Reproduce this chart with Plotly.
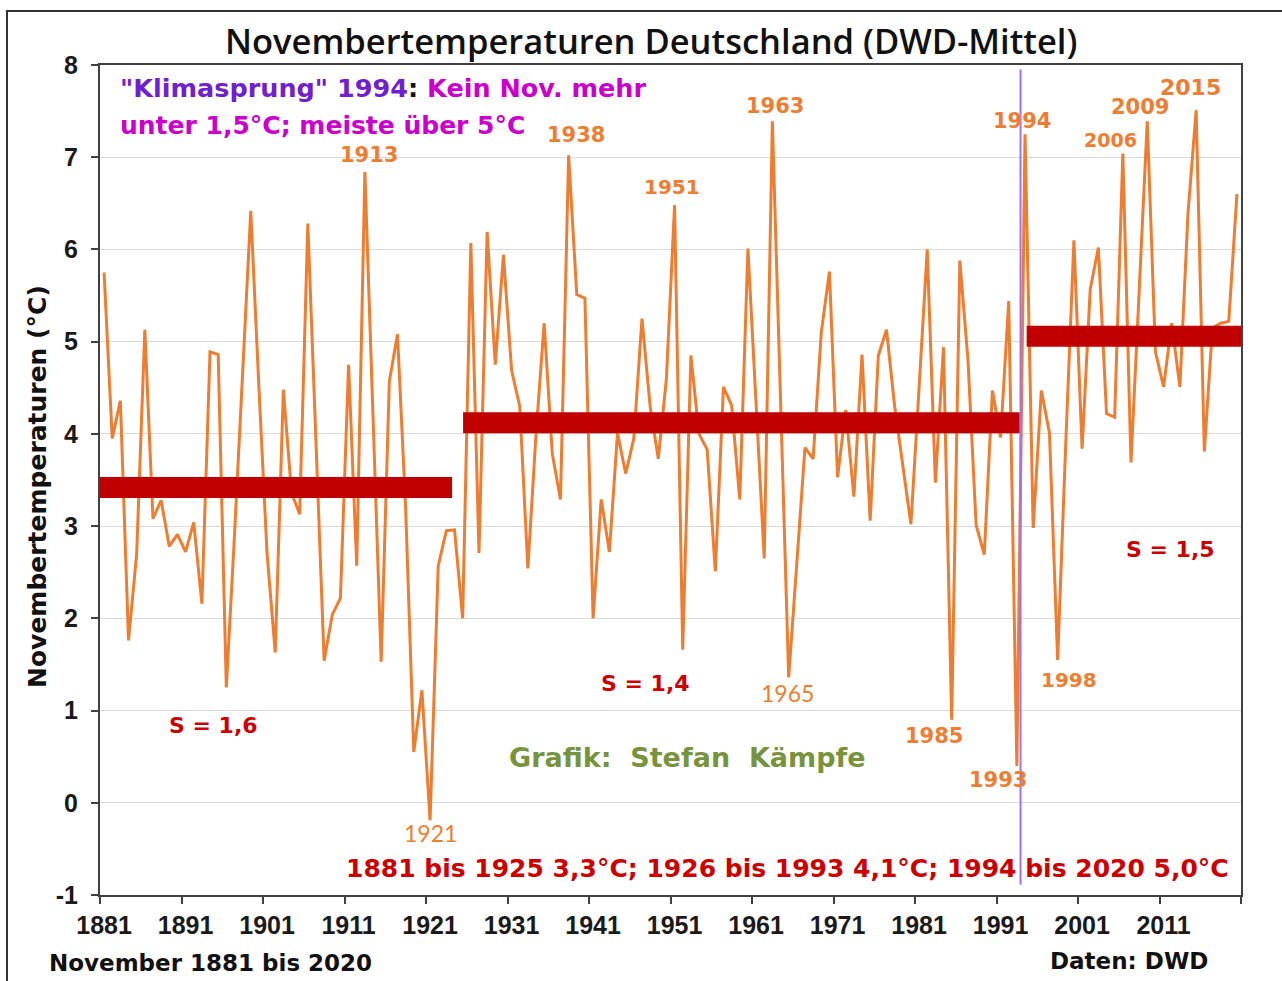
import plotly.graph_objects as go

# ---------------- data ----------------
years = list(range(1881, 2021))
temps = [
    5.75, 3.95, 4.36, 1.76, 2.70, 5.13, 3.08, 3.28, 2.78, 2.91,   # 1881-1890
    2.72, 3.04, 2.16, 4.89, 4.86, 1.25, 2.90, 4.60, 6.42, 4.50,   # 1891-1900
    2.70, 1.63, 4.48, 3.36, 3.13, 6.28, 3.90, 1.54, 2.04, 2.22,   # 1901-1910
    4.75, 2.57, 6.84, 4.20, 1.53, 4.57, 5.08, 3.20, 0.55, 1.22,   # 1911-1920
    -0.19, 2.57, 2.95, 2.96, 2.00, 6.07, 2.71, 6.19, 4.75, 5.94,  # 1921-1930
    4.69, 4.30, 2.54, 4.00, 5.20, 3.78, 3.29, 7.02, 5.51, 5.47,   # 1931-1940
    2.00, 3.29, 2.72, 4.01, 3.57, 3.95, 5.25, 4.30, 3.73, 4.60,   # 1941-1950
    6.48, 1.66, 4.85, 4.00, 3.83, 2.51, 4.51, 4.31, 3.29, 6.01,   # 1951-1960
    4.30, 2.65, 7.39, 4.30, 1.36, 2.60, 3.85, 3.73, 5.10, 5.76,   # 1961-1970
    3.53, 4.26, 3.32, 4.86, 3.06, 4.85, 5.13, 4.30, 3.65, 3.02,   # 1971-1980
    4.50, 6.00, 3.47, 4.94, 0.90, 5.88, 4.80, 3.01, 2.69, 4.47,   # 1981-1990
    3.96, 5.44, 0.40, 7.25, 2.98, 4.47, 4.01, 1.55, 3.90, 6.10,   # 1991-2000
    3.84, 5.57, 6.02, 4.22, 4.18, 7.04, 3.69, 5.50, 7.39, 4.89,   # 2001-2010
    4.51, 5.20, 4.51, 6.40, 7.51, 3.81, 5.15, 5.20, 5.22, 6.60,   # 2011-2020
]

# period means (thick red bars) as drawn in the original
period_start = [1880.5, 1925.05, 1994.2]
period_end = [1923.7, 1993.35, 2020.5]
period_mean = [3.42, 4.12, 5.06]

tick_years = [1881, 1891, 1901, 1911, 1921, 1931, 1941, 1951, 1961, 1971, 1981, 1991, 2001, 2011]
tick_bounds = [1880.5, 1890.5, 1900.5, 1910.5, 1920.5, 1930.5, 1940.5, 1950.5,
               1960.5, 1970.5, 1980.5, 1990.5, 2000.5, 2010.5, 2020.5]
y_ticks = [-1, 0, 1, 2, 3, 4, 5, 6, 7, 8]
y_ticktext = ["-1", "0", "1", "2", "3", "4", "5", "6", "7", "8"]
klimasprung_year = 1993.45

# ---------------- styling ----------------
ORANGE = "#ED7D31"
DARKRED = "#C00000"
RED = "#CC0000"
PURPLE = "#7020D0"
MAGENTA = "#CC00CC"
GREEN = "#77933C"
DV = "DejaVu Sans"
AR = "Liberation Sans, Arial"

W, H = 1282, 981
L, R, T, B = 100, 41, 65, 86
PW, PH = W - L - R, H - T - B


def px(x, y):
    return (x - L) / PW, (H - B - y) / PH


fig = go.Figure()
fig.add_trace(go.Scatter(x=years, y=temps, mode="lines",
                         line=dict(color=ORANGE, width=3), hoverinfo="skip"))
for s, e, m in zip(period_start, period_end, period_mean):
    fig.add_trace(go.Scatter(x=[s, e], y=[m, m], mode="lines",
                             line=dict(color=DARKRED, width=21), hoverinfo="skip"))

annotations = []


def ann(text, x, y, size, color, family=DV, weight="bold", xanchor="center", angle=0):
    xp, yp = px(x, y)
    annotations.append(dict(text=text, x=xp, y=yp, xref="paper", yref="paper",
                            showarrow=False, xanchor=xanchor, yanchor="middle",
                            textangle=angle,
                            font=dict(family=family, size=size, color=color, weight=weight)))


# title
ann("Novembertemperaturen Deutschland (DWD-Mittel)", 651, 40, 34.5, "#111111",
    family="Open Sans", weight=600)
# y title
ann("Novembertemperaturen (°C)", 38, 487, 25, "#111111", angle=-90)
# bottom texts
ann("November 1881 bis 2020", 47, 963, 23, "#111111", xanchor="left")
ann("Daten: DWD", 1210, 961, 23, "#111111", xanchor="right")
# Klimasprung note
ann(f'<span style="color:{PURPLE}">"Klimasprung" 1994</span>'
    f'<span style="color:#111111">:</span> '
    f'<span style="color:{MAGENTA}">Kein Nov. mehr</span>', 118, 88, 25.5, PURPLE, xanchor="left")
ann("unter 1,5°C; meiste über 5°C", 118, 125, 25, MAGENTA, xanchor="left")
# year labels
ann("1913", 369, 155, 21, ORANGE)
ann("1938", 576, 135, 21, ORANGE)
ann("1951", 672, 187, 20, ORANGE)
ann("1963", 775, 106, 21, ORANGE)
ann("1994", 1022, 121, 21, ORANGE)
ann("2006", 1110, 140, 19, ORANGE)
ann("2009", 1140, 107, 21, ORANGE)
ann("2015", 1190, 87, 22, ORANGE)
ann("1985", 934, 736, 21, ORANGE)
ann("1993", 998, 780, 21, ORANGE)
ann("1998", 1069, 680, 20, ORANGE)
ann("1921", 431, 833, 23, ORANGE, family="Lato", weight="normal")
ann("1965", 787, 693, 23, ORANGE, family="Lato", weight="normal")
# S labels
ann("S = 1,6", 213, 725, 22, RED)
ann("S = 1,4", 645, 683, 22, RED)
ann("S = 1,5", 1170, 549, 22, RED)
# credit
ann("Grafik:\u00a0\u00a0Stefan\u00a0\u00a0Kämpfe", 687, 757, 27, GREEN)
# summary
ann("1881 bis 1925 3,3°C; 1926 bis 1993 4,1°C; 1994 bis 2020 5,0°C", 788, 868, 25, RED)

shapes = [
    dict(type="line", xref="x", yref="y", x0=klimasprung_year, x1=klimasprung_year,
         y0=-0.89, y1=7.95, line=dict(color="#A070F0", width=2), layer="above"),
]
fx0, fy0 = px(7, 1010)
fx1, fy1 = px(1300, 11)
shapes.append(dict(type="rect", xref="paper", yref="paper", x0=fx0, x1=fx1, y0=fy0, y1=fy1,
                   line=dict(color="#333333", width=2), layer="above"))

tickfont = dict(family=AR, size=25, color="#1a1a1a", weight="bold")
fig.update_layout(
    width=W, height=H,
    margin=dict(l=L, r=R, t=T, b=B),
    paper_bgcolor="white", plot_bgcolor="white", showlegend=False,
    annotations=annotations, shapes=shapes,
    xaxis=dict(range=[1880.5, 2020.5], tickmode="array", tickvals=tick_years,
               ticktext=[str(v) for v in tick_years], ticks="", showgrid=False,
               zeroline=False, showline=True, mirror=True, linecolor="#404040",
               linewidth=2, tickfont=tickfont, ticklabelstandoff=7,
               minor=dict(tickmode="array", tickvals=tick_bounds, ticks="outside",
                          ticklen=7, tickwidth=2, tickcolor="#404040", showgrid=False)),
    yaxis=dict(range=[-1, 8], tickmode="array", tickvals=y_ticks, ticktext=y_ticktext,
               ticks="outside", ticklen=7, tickwidth=2, tickcolor="#404040", showgrid=True,
               gridcolor="#D9D9D9", gridwidth=1, zeroline=False, showline=True,
               mirror=True, linecolor="#404040", linewidth=2, tickfont=tickfont,
               ticklabelstandoff=8),
)

fig.write_html("out.html", config={"displayModeBar": False},
               post_script="document.body.style.margin='0';document.body.style.overflow='hidden';")
